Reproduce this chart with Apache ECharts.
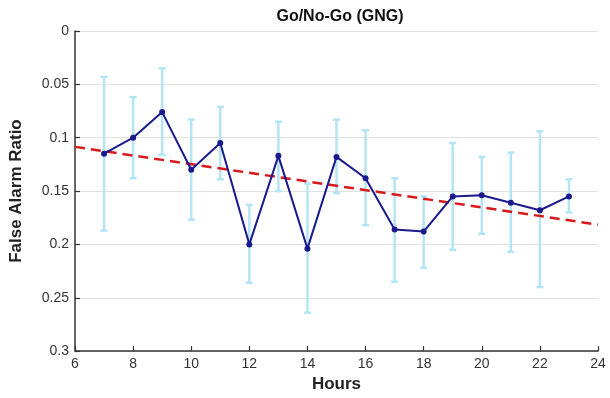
<!DOCTYPE html>
<html>
<head>
<meta charset="utf-8">
<script src="https://cdn.jsdelivr.net/npm/echarts@6/dist/echarts.min.js"></script>
<style>
  html, body { margin: 0; padding: 0; background: #fff; }
  #chart { width: 610px; height: 398px; }
</style>
</head>
<body>
<div id="chart"></div>
<script>
const hours = [7, 8, 9, 10, 11, 12, 13, 14, 15, 16, 17, 18, 19, 20, 21, 22, 23]
const meanRatio = [0.115, 0.100, 0.076, 0.130, 0.105, 0.200, 0.117, 0.204, 0.118, 0.138, 0.186, 0.188, 0.155, 0.154, 0.161, 0.168, 0.155]
const errLow = [0.043, 0.062, 0.035, 0.083, 0.071, 0.163, 0.085, 0.143, 0.083, 0.093, 0.138, 0.155, 0.105, 0.118, 0.114, 0.094, 0.139]
const errHigh = [0.187, 0.138, 0.116, 0.177, 0.139, 0.236, 0.150, 0.264, 0.152, 0.182, 0.235, 0.222, 0.205, 0.190, 0.207, 0.240, 0.170]
const trendX = [6, 24]
const trendY = [0.1086, 0.1815]

const font = 'Arial, "Liberation Sans", Helvetica, sans-serif'
const chart = echarts.init(document.getElementById('chart'))

const errData = hours.map((h, i) => [h, errLow[i], errHigh[i]])

const option = {
  animation: false,
  backgroundColor: '#fff',
  title: {
    text: 'Go/No-Go (GNG)',
    left: 335,
    top: 4,
    textAlign: 'center',
    textStyle: { fontFamily: font, fontSize: 16, fontWeight: 'bold', color: '#111' },
  },
  grid: {
    left: 72,
    right: 12,
    top: 31,
    bottom: 45,
  },
  xAxis: {
    type: 'value',
    position: 'bottom',
    min: 6,
    max: 24,
    interval: 2,
    name: 'Hours',
    nameLocation: 'middle',
    nameGap: 24,
    nameTextStyle: { fontFamily: font, fontSize: 17, fontWeight: 'bold', color: '#222' },
    axisLine: { show: true, onZero: false, lineStyle: { color: '#333', width: 1.5 } },
    axisTick: { show: true, inside: true, length: 5, lineStyle: { color: '#333', width: 1.2 } },
    axisLabel: { fontFamily: font, fontSize: 14, color: '#333', margin: 6 },
    splitLine: { show: false },
  },
  yAxis: {
    type: 'value',
    inverse: true,
    min: 0,
    max: 0.3,
    interval: 0.05,
    name: 'False Alarm Ratio',
    nameLocation: 'middle',
    nameGap: 50,
    nameTextStyle: { fontFamily: font, fontSize: 17, fontWeight: 'bold', color: '#222' },
    axisLine: { show: true, onZero: false, lineStyle: { color: '#333', width: 1.5 } },
    axisTick: { show: true, inside: true, length: 5, lineStyle: { color: '#333', width: 1.2 } },
    axisLabel: { fontFamily: font, fontSize: 14, color: '#333', margin: 6 },
    splitLine: { show: true, lineStyle: { color: '#e0e0e0', width: 1.2 } },
  },
  series: [
    {
      type: 'custom',
      name: 'error',
      z: 2,
      data: errData,
      renderItem: (params, api) => {
        const x = api.value(0)
        const lo = api.coord([x, api.value(1)])
        const hi = api.coord([x, api.value(2)])
        const hw = 3.5
        const style = { stroke: '#b3e5f5', lineWidth: 2.5 }
        return {
          type: 'group',
          children: [
            { type: 'line', shape: { x1: lo[0], y1: lo[1], x2: hi[0], y2: hi[1] }, style },
            { type: 'line', shape: { x1: lo[0] - hw, y1: lo[1], x2: lo[0] + hw, y2: lo[1] }, style },
            { type: 'line', shape: { x1: hi[0] - hw, y1: hi[1], x2: hi[0] + hw, y2: hi[1] }, style },
          ],
        }
      },
    },
    {
      type: 'line',
      name: 'trend',
      z: 3,
      data: trendX.map((x, i) => [x, trendY[i]]),
      symbol: 'none',
      lineStyle: { color: '#d7191c', width: 2.5, type: [10, 6] },
    },
    {
      type: 'line',
      name: 'mean',
      z: 4,
      data: hours.map((h, i) => [h, meanRatio[i]]),
      symbol: 'circle',
      symbolSize: 6,
      itemStyle: { color: '#1a1a8c' },
      lineStyle: { color: '#1a1a8c', width: 2 },
    },
  ],
}

chart.setOption(option)
</script>
</body>
</html>
